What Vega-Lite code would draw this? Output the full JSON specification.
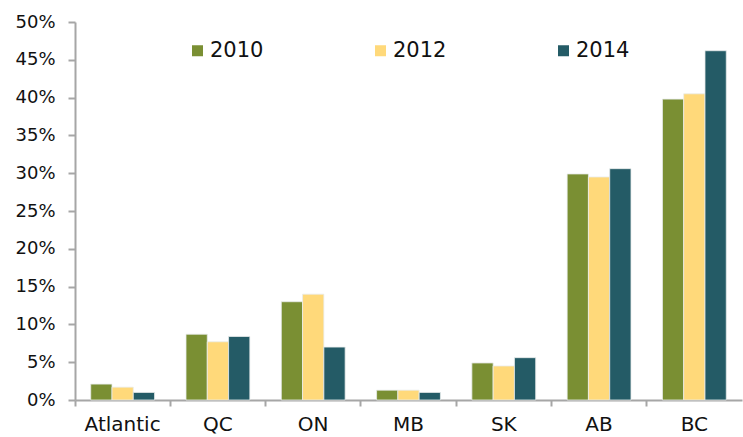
{
  "$schema": "https://vega.github.io/schema/vega-lite/v6.json",
  "width": 667,
  "height": 378,
  "autosize": {"type": "none"},
  "padding": {"left": 75, "top": 22, "right": 1, "bottom": 37},
  "background": "white",
  "config": {
    "view": {"stroke": null},
    "font": "DejaVu Sans"
  },
  "data": {
    "values": [
      {"region": "Atlantic", "year": "2010", "share": 0.021},
      {"region": "Atlantic", "year": "2012", "share": 0.017},
      {"region": "Atlantic", "year": "2014", "share": 0.010},
      {"region": "QC", "year": "2010", "share": 0.087},
      {"region": "QC", "year": "2012", "share": 0.077},
      {"region": "QC", "year": "2014", "share": 0.084},
      {"region": "ON", "year": "2010", "share": 0.130},
      {"region": "ON", "year": "2012", "share": 0.140},
      {"region": "ON", "year": "2014", "share": 0.070},
      {"region": "MB", "year": "2010", "share": 0.013},
      {"region": "MB", "year": "2012", "share": 0.013},
      {"region": "MB", "year": "2014", "share": 0.010},
      {"region": "SK", "year": "2010", "share": 0.049},
      {"region": "SK", "year": "2012", "share": 0.045},
      {"region": "SK", "year": "2014", "share": 0.056},
      {"region": "AB", "year": "2010", "share": 0.299},
      {"region": "AB", "year": "2012", "share": 0.295},
      {"region": "AB", "year": "2014", "share": 0.306},
      {"region": "BC", "year": "2010", "share": 0.398},
      {"region": "BC", "year": "2012", "share": 0.405},
      {"region": "BC", "year": "2014", "share": 0.462}
    ]
  },
  "mark": {"type": "bar", "stroke": "#e8ecec", "strokeWidth": 0.8},
  "encoding": {
    "x": {
      "field": "region",
      "type": "nominal",
      "sort": null,
      "scale": {"paddingInner": 0.33, "paddingOuter": 0.165},
      "axis": {
        "title": null,
        "labelAngle": 0,
        "labelFontSize": 20,
        "labelColor": "#111",
        "labelPadding": 8,
        "domainColor": "#a6a6a6",
        "domainWidth": 2,
        "tickColor": "#a6a6a6",
        "tickWidth": 2,
        "tickSize": 6,
        "bandPosition": -0.246
      }
    },
    "xOffset": {"field": "year", "type": "nominal"},
    "y": {
      "field": "share",
      "type": "quantitative",
      "scale": {"domain": [0, 0.5], "nice": false},
      "axis": {
        "title": null,
        "format": ".0%",
        "values": [0, 0.05, 0.1, 0.15, 0.2, 0.25, 0.3, 0.35, 0.4, 0.45, 0.5],
        "grid": false,
        "labelFontSize": 18,
        "labelColor": "#111",
        "labelPadding": 13,
        "domainColor": "#a6a6a6",
        "domainWidth": 2,
        "tickColor": "#a6a6a6",
        "tickWidth": 2,
        "tickSize": 7
      }
    },
    "color": {
      "field": "year",
      "type": "nominal",
      "scale": {"domain": ["2010", "2012", "2014"], "range": ["#7a8f33", "#ffd97a", "#245b66"]},
      "legend": {
        "title": null,
        "orient": "none",
        "legendX": 112,
        "legendY": 18,
        "direction": "horizontal",
        "columns": 3,
        "columnPadding": 106,
        "symbolType": "square",
        "symbolSize": 121,
        "symbolStrokeWidth": 0,
        "labelFontSize": 21,
        "labelColor": "#111",
        "labelOffset": 2
      }
    }
  }
}
